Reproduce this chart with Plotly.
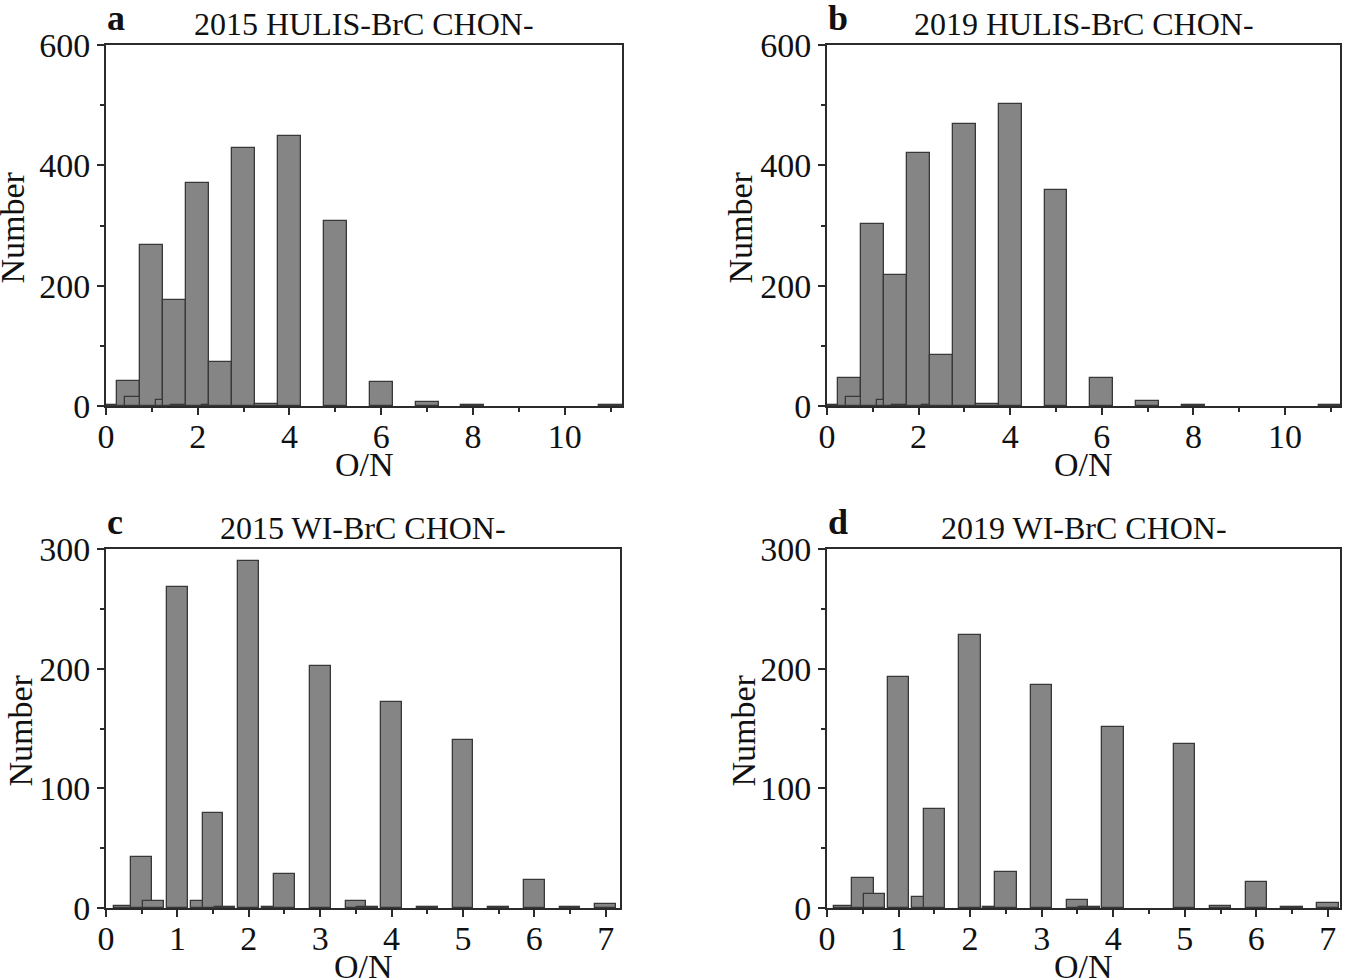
import plotly.graph_objects as go

# ---------------- data ----------------
# O/N ratio values (bar centres) and counts
on_a = [0.25, 0.5, 0.667, 1, 1.333, 1.5, 1.667, 2, 2.333, 2.5, 3, 3.5, 4, 5, 6, 7, 8, 11]
cnt_a = [1, 42, 15, 268, 10, 176, 1, 370, 2, 73, 429, 4, 449, 307, 40, 6, 1, 1]

on_b = [0.25, 0.5, 0.667, 1, 1.333, 1.5, 1.667, 2, 2.333, 2.5, 3, 3.5, 4, 5, 6, 7, 8, 11]
cnt_b = [1, 46, 15, 302, 10, 218, 1, 420, 2, 85, 469, 4, 502, 359, 46, 9, 1, 1]

on_c = [0.25, 0.5, 0.667, 1, 1.333, 1.5, 1.667, 2, 2.333, 2.5, 3, 3.5, 3.667, 4, 4.5, 5, 5.5, 6, 6.5, 7]
cnt_c = [2, 43, 6, 268, 6, 79, 1, 290, 1, 28, 202, 6, 1, 172, 1, 140, 1, 23, 1, 3]

on_d = [0.25, 0.5, 0.667, 1, 1.333, 1.5, 2, 2.333, 2.5, 3, 3.5, 3.667, 4, 5, 5.5, 6, 6.5, 7]
cnt_d = [2, 25, 12, 193, 9, 83, 228, 1, 30, 186, 7, 1, 151, 137, 2, 22, 1, 4]

titles = ["2015 HULIS-BrC CHON-", "2019 HULIS-BrC CHON-", "2015 WI-BrC CHON-", "2019 WI-BrC CHON-"]
letters = ["a", "b", "c", "d"]

# ---------------- layout helpers ----------------
W, H = 1346, 980
FONT = "Liberation Serif"
def px(x):
    return min(1.0, max(0.0, x / W))
def py(y):
    return min(1.0, max(0.0, 1 - y / H))

panels = [
    dict(data=(on_a, cnt_a), x0=106, x1=622, y0=45, y1=406, xr=[0, 11.25], yr=[0, 600], bw=0.5,
         xd=2, xm=1, yd=200, ym=100, ytx=12),
    dict(data=(on_b, cnt_b), x0=827, x1=1340, y0=45, y1=406, xr=[0, 11.2], yr=[0, 600], bw=0.5,
         xd=2, xm=1, yd=200, ym=100, ytx=740),
    dict(data=(on_c, cnt_c), x0=106, x1=620, y0=549, y1=908, xr=[0, 7.2], yr=[0, 300], bw=0.29,
         xd=1, xm=0.5, yd=100, ym=50, ytx=20),
    dict(data=(on_d, cnt_d), x0=827, x1=1340, y0=549, y1=908, xr=[0, 7.17], yr=[0, 300], bw=0.3,
         xd=1, xm=0.5, yd=100, ym=50, ytx=743),
]

fig = go.Figure()
annotations = []
axis_color = "#2b2b2b"

for i, p in enumerate(panels):
    n = "" if i == 0 else str(i + 1)
    xs, ys = p["data"]
    fig.add_trace(go.Bar(
        x=xs, y=ys, width=p["bw"],
        marker=dict(color="#858585", line=dict(color="#383838", width=1.3)),
        xaxis="x" + n, yaxis="y" + n, showlegend=False,
    ))
    common = dict(showgrid=False, zeroline=False, showline=True, linecolor=axis_color,
                  linewidth=2, mirror=True, ticks="outside", tickcolor=axis_color,
                  tickwidth=1.5, ticklen=7, automargin=False,
                  tickfont=dict(family=FONT, size=34, color="#111111"))
    fig.layout["xaxis" + n] = dict(
        domain=[px(p["x0"]), px(p["x1"])], range=p["xr"], anchor="y" + n,
        dtick=p["xd"], tick0=0, ticklabelstandoff=-8,
        minor=dict(dtick=p["xm"], tick0=0, ticks="outside", ticklen=4, tickwidth=1.5,
                   tickcolor=axis_color),
        **common)
    fig.layout["yaxis" + n] = dict(
        domain=[py(p["y1"]), py(p["y0"])], range=p["yr"], anchor="x" + n,
        dtick=p["yd"], tick0=0, ticklabelstandoff=0,
        minor=dict(dtick=p["ym"], tick0=0, ticks="outside", ticklen=4, tickwidth=1.5,
                   tickcolor=axis_color),
        **common)
    cx = (p["x0"] + p["x1"]) / 2
    # subplot title
    annotations.append(dict(text=titles[i], x=px(cx), y=py(p["y0"] - 21), xref="paper", yref="paper",
                            xanchor="center", yanchor="middle", showarrow=False,
                            font=dict(family=FONT, size=32, color="#111111")))
    # panel letter
    annotations.append(dict(text="<b>" + letters[i] + "</b>", x=px(p["x0"] - 1), y=py(p["y0"] - 27),
                            xref="paper", yref="paper", xanchor="left", yanchor="middle",
                            showarrow=False, font=dict(family=FONT, size=36, color="#111111")))
    # x title
    annotations.append(dict(text="O/N", x=px(cx), y=py(p["y1"] + 58), xref="paper", yref="paper",
                            xanchor="center", yanchor="middle", showarrow=False,
                            font=dict(family=FONT, size=34, color="#111111")))
    # y title
    annotations.append(dict(text="Number", x=px(p["ytx"]), y=py((p["y0"] + p["y1"]) / 2 + 2),
                            xref="paper", yref="paper", xanchor="center", yanchor="middle",
                            textangle=-90, showarrow=False,
                            font=dict(family=FONT, size=34, color="#111111")))

fig.update_layout(
    width=W, height=H, margin=dict(l=0, r=0, t=0, b=0, autoexpand=False),
    paper_bgcolor="white", plot_bgcolor="white",
    annotations=annotations, bargap=0,
)

fig.write_html("out.html", config={"displayModeBar": False},
               post_script="document.body.style.margin='0';")
